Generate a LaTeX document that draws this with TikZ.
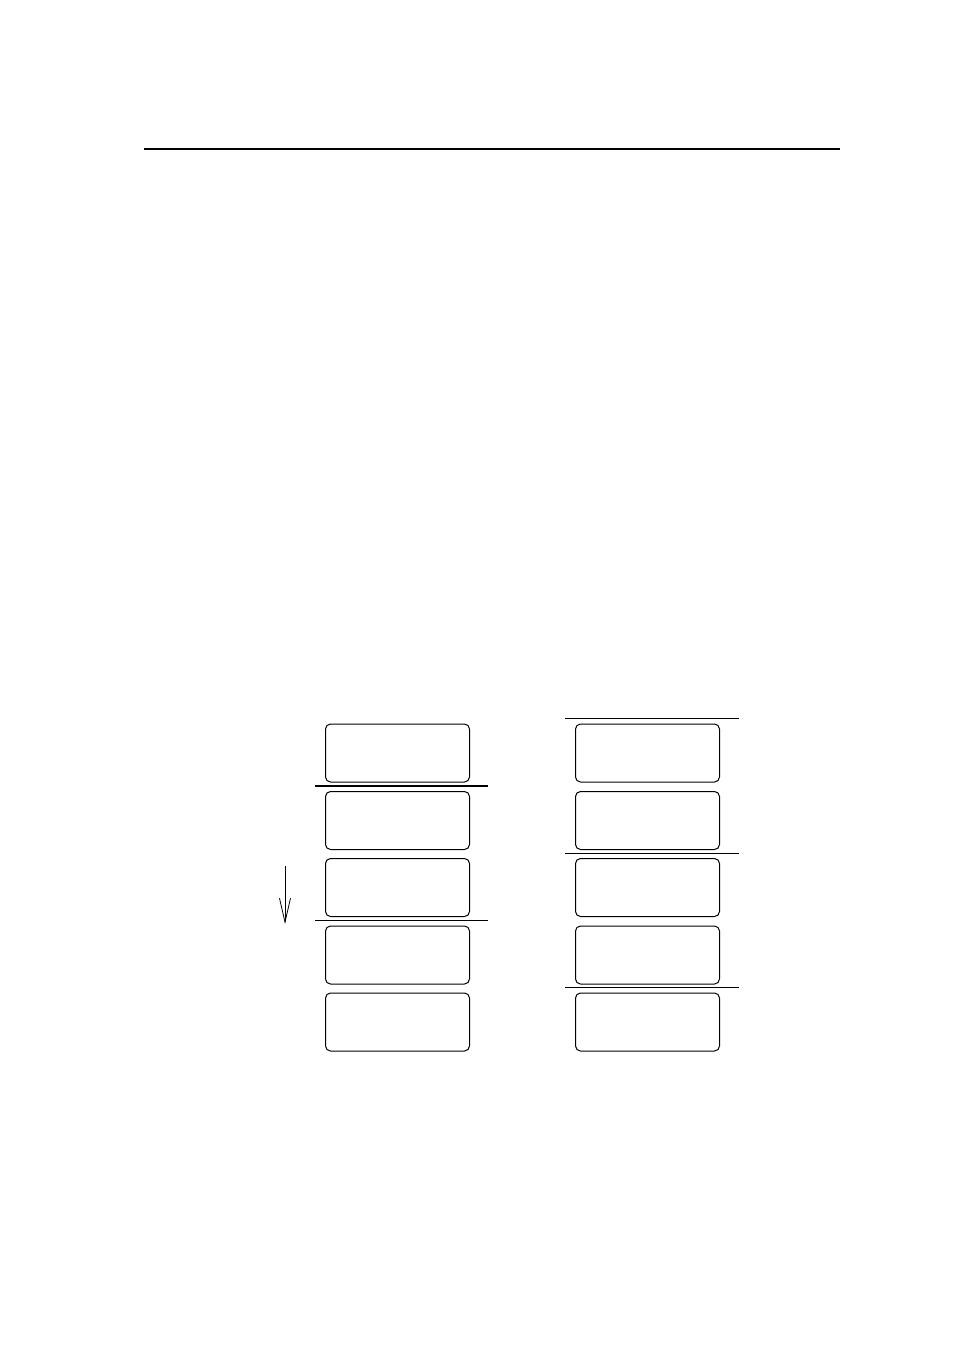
\documentclass[tikz,border=0pt]{standalone}
\usetikzlibrary{arrows.meta}
\begin{document}
\begin{tikzpicture}[x=1pt,y=-1pt,
  slot/.style={draw,line width=1pt,rounded corners=5pt,minimum width=144pt,minimum height=58pt,inner sep=0pt,anchor=north west},
  sep/.style={line width=0.9pt},
  septhick/.style={line width=2pt}]
\useasboundingbox (0,0) rectangle (954,1348);
% top rule
\coordinate (r1) at (144,149);
\coordinate (r2) at (840,149);
\draw[line width=2pt] (r1) -- (r2);
% left column
\node[slot] (L1) at (325,723.5) {};
\node[slot] (L2) at (325,791) {};
\node[slot] (L3) at (325,858) {};
\node[slot] (L4) at (325,925.5) {};
\node[slot] (L5) at (325,992.5) {};
\coordinate (la1) at (315,786); \coordinate (la2) at (488,786);
\draw[septhick] (la1) -- (la2);
\coordinate (lb1) at (315,920); \coordinate (lb2) at (488,920);
\draw[sep] (lb1) -- (lb2);
% arrow
\coordinate (a1) at (285,866); \coordinate (a2) at (285,924);
\draw[line width=0.8pt,-{Straight Barb[length=24pt,width=11pt,line width=0.8pt]}] (a1) -- (a2);
% right column
\node[slot] (R1) at (575,723.5) {};
\node[slot] (R2) at (575,791) {};
\node[slot] (R3) at (575,858) {};
\node[slot] (R4) at (575,925.5) {};
\node[slot] (R5) at (575,992.5) {};
\coordinate (ra1) at (565,718); \coordinate (ra2) at (739,718);
\draw[sep] (ra1) -- (ra2);
\coordinate (rb1) at (565,853); \coordinate (rb2) at (739,853);
\draw[sep] (rb1) -- (rb2);
\coordinate (rc1) at (565,987); \coordinate (rc2) at (739,987);
\draw[sep] (rc1) -- (rc2);
\end{tikzpicture}
\end{document}
